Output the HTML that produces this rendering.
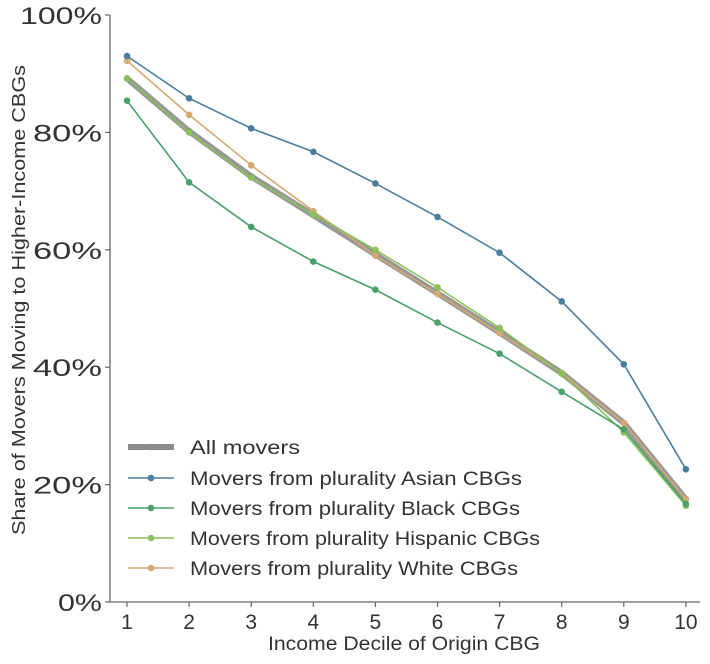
<!DOCTYPE html>
<html><head><meta charset="utf-8"><style>
body{margin:0;background:#fff;}
svg{display:block;font-family:"Liberation Sans",sans-serif;}
</style></head><body>
<svg id="s" width="710" height="664" xmlns="http://www.w3.org/2000/svg">
<rect width="710" height="664" fill="#fff"/>
<line x1="110" y1="15" x2="110" y2="602" stroke="#666" stroke-width="1.3"/>
<line x1="110" y1="602" x2="700" y2="602" stroke="#666" stroke-width="1.3"/>
<g id="ticks"></g>
<g id="series"></g>
<text x="20" y="300" transform="rotate(-90 20 300)" font-size="18" fill="#333" text-anchor="middle" dominant-baseline="middle" textLength="470" lengthAdjust="spacingAndGlyphs">Share of Movers Moving to Higher-Income CBGs</text>
<text x="404" y="650" font-size="19" fill="#333" text-anchor="middle" textLength="272" lengthAdjust="spacingAndGlyphs">Income Decile of Origin CBG</text>
<g id="legend"></g>
</svg>
<script>
var NS="http://www.w3.org/2000/svg";
function el(t,a,p,txt){var e=document.createElementNS(NS,t);for(var k in a)e.setAttribute(k,a[k]);if(txt!=null)e.textContent=txt;p.appendChild(e);return e;}
function X(i){return 127+(i-1)*62.1;}
function Y(v){return 602-v*5.87;}
var tk=document.getElementById('ticks');
for(var v=0;v<=100;v+=20){var y=Y(v);el('line',{x1:105,y1:y,x2:110,y2:y,stroke:'#666','stroke-width':1.2},tk);
el('text',{x:102,y:y+9,'font-size':24,fill:'#333','text-anchor':'end',textLength:(v==100?82:(v==0?44:69)),lengthAdjust:'spacingAndGlyphs'},tk,v+'%');}
for(var i=1;i<=10;i++){var x=X(i);el('line',{x1:x,y1:602,x2:x,y2:607,stroke:'#666','stroke-width':1.2},tk);el('text',{x:x,y:629,'font-size':21,fill:'#333','text-anchor':'middle'},tk,i);}
var S=[
{c:'#8c8c8c',w:6,d:[89.2,80.2,72.5,65.9,59.2,52.6,45.9,39,30.5,17.5],l:'All movers',tl:110},
{c:'#4a7e9c',w:1.6,d:[93,85.8,80.7,76.7,71.3,65.6,59.5,51.2,40.5,22.6],l:'Movers from plurality Asian CBGs',tl:332},
{c:'#4aa06a',w:1.6,d:[85.4,71.5,63.9,58,53.2,47.6,42.3,35.8,29.4,16.7],l:'Movers from plurality Black CBGs',tl:330},
{c:'#8bc05a',w:1.6,d:[89.2,80,72.3,66,60,53.6,46.7,38.9,28.9,16.4],l:'Movers from plurality Hispanic CBGs',tl:350},
{c:'#d4aa72',w:1.6,d:[92.2,83,74.4,66.6,59,52.5,45.8,39,30.5,17.5],l:'Movers from plurality White CBGs',tl:328}];
var sg=document.getElementById('series'),lg=document.getElementById('legend');
var order=[0,4,3,2,1];
order.forEach(function(k){var s=S[k];var pts=s.d.map(function(v,i){return X(i+1)+','+Y(v);}).join(' ');
el('polyline',{points:pts,fill:'none',stroke:s.c,'stroke-width':s.w,'stroke-opacity':k==0?0.9:1},sg);
s.d.forEach(function(v,i){el('circle',{cx:X(i+1),cy:Y(v),r:3.3,fill:s.c},sg);});});
var ly=[447,478,508,538,568];
S.forEach(function(s,k){var y=ly[k];el('line',{x1:128,y1:y,x2:174,y2:y,stroke:s.c,'stroke-width':s.w},lg);el('circle',{cx:151,cy:y,r:3.3,fill:s.c},lg);
el('text',{x:190,y:y+7,'font-size':19.5,fill:'#333',textLength:s.tl,lengthAdjust:'spacingAndGlyphs'},lg,s.l);});
</script>
</body></html>
